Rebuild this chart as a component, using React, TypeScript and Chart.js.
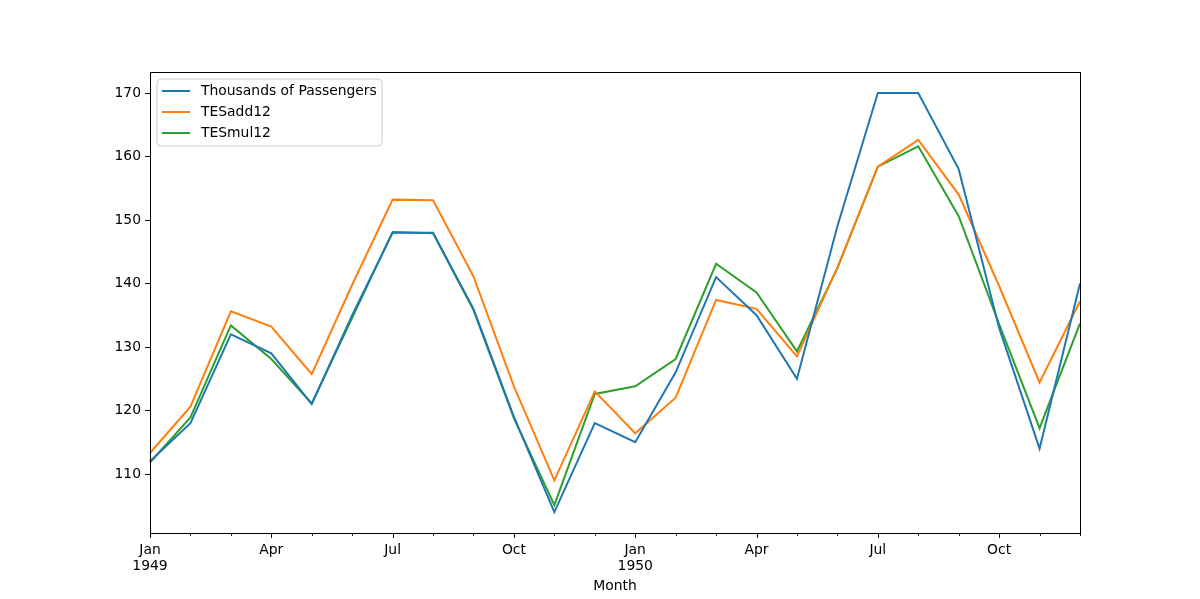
import React, { useEffect, useRef } from 'react';
import { Chart, registerables } from 'chart.js';

Chart.register(...registerables);

const months = [
  '1949-01', '1949-02', '1949-03', '1949-04', '1949-05', '1949-06',
  '1949-07', '1949-08', '1949-09', '1949-10', '1949-11', '1949-12',
  '1950-01', '1950-02', '1950-03', '1950-04', '1950-05', '1950-06',
  '1950-07', '1950-08', '1950-09', '1950-10', '1950-11', '1950-12',
];

const xTickLabels: (string | string[])[] = [
  ['Jan', '1949'], '', '', 'Apr', '', '', 'Jul', '', '', 'Oct', '', '',
  ['Jan', '1950'], '', '', 'Apr', '', '', 'Jul', '', '', 'Oct', '', '',
];

const passengers = [112, 118, 132, 129, 121, 135, 148, 148, 136, 119, 104, 118,
  115, 126, 141, 135, 125, 149, 170, 170, 158, 133, 114, 140];

const tesAdd12 = [113.3, 120.6, 135.6, 133.2, 125.7, 139.8, 153.2, 153.1, 141.1, 123.8, 109.0, 123.0,
  116.4, 122.0, 137.4, 136.0, 128.5, 142.5, 158.4, 162.6, 154.0, 139.6, 124.4, 137.2];

const tesMul12 = [111.8, 118.9, 133.4, 128.1, 121.1, 134.6, 148.1, 147.9, 135.8, 118.8, 105.1, 122.6,
  123.8, 128.1, 143.1, 138.6, 129.3, 142.4, 158.4, 161.6, 150.6, 133.6, 117.2, 133.7];

const seriesNames = ['Thousands of Passengers', 'TESadd12', 'TESmul12'];
const seriesColors = ['#1f77b4', '#ff7f0e', '#2ca02c'];

const yTicks = [110, 120, 130, 140, 150, 160, 170];
const yMin = 100.7;
const yMax = 173.3;

const FONT = 'DejaVu Sans';
const FS = 13.9;

const framePlugin = {
  id: 'mplFrame',
  afterDraw(chart: any) {
    const { ctx, chartArea } = chart;
    const { left, right, top, bottom } = chartArea;
    const xs = chart.scales.x;
    const ys = chart.scales.y;
    ctx.save();
    ctx.strokeStyle = '#000';
    ctx.lineWidth = 1;
    // ticks
    ctx.beginPath();
    for (let i = 0; i < months.length; i++) {
      const x = Math.round(xs.getPixelForValue(i)) + 0.5;
      const len = i % 3 === 0 ? 4.9 : 2.8;
      ctx.moveTo(x, bottom);
      ctx.lineTo(x, bottom + len);
    }
    for (const v of yTicks) {
      const y = Math.round(ys.getPixelForValue(v)) + 0.5;
      ctx.moveTo(left, y);
      ctx.lineTo(left - 4.9, y);
    }
    ctx.stroke();
    // frame
    ctx.strokeRect(Math.round(left) + 0.5, Math.round(top) + 0.5,
      Math.round(right - left), Math.round(bottom - top));

    // legend
    const lx = 157, ly = 79, lw = 225, lh = 67, r = 4;
    ctx.beginPath();
    ctx.moveTo(lx + r, ly);
    ctx.lineTo(lx + lw - r, ly);
    ctx.quadraticCurveTo(lx + lw, ly, lx + lw, ly + r);
    ctx.lineTo(lx + lw, ly + lh - r);
    ctx.quadraticCurveTo(lx + lw, ly + lh, lx + lw - r, ly + lh);
    ctx.lineTo(lx + r, ly + lh);
    ctx.quadraticCurveTo(lx, ly + lh, lx, ly + lh - r);
    ctx.lineTo(lx, ly + r);
    ctx.quadraticCurveTo(lx, ly, lx + r, ly);
    ctx.closePath();
    ctx.fillStyle = 'rgba(255,255,255,0.8)';
    ctx.fill();
    ctx.strokeStyle = '#cccccc';
    ctx.lineWidth = 1;
    ctx.stroke();

    ctx.font = `${FS}px "${FONT}"`;
    ctx.textBaseline = 'middle';
    ctx.textAlign = 'left';
    chart.data.datasets.forEach((ds: any, i: number) => {
      const cy = 91 + i * 21;
      ctx.strokeStyle = ds.borderColor;
      ctx.lineWidth = 2;
      ctx.beginPath();
      ctx.moveTo(162, cy);
      ctx.lineTo(190, cy);
      ctx.stroke();
      ctx.fillStyle = '#000';
      ctx.fillText(ds.label, 201, cy);
    });
    ctx.restore();
  },
};

export default function App() {
  const ref = useRef<HTMLCanvasElement>(null);

  useEffect(() => {
    if (!ref.current) return;
    const seriesData = [passengers, tesAdd12, tesMul12];
    const chart = new Chart(ref.current, {
      type: 'line',
      data: {
        labels: months,
        datasets: seriesData.map((d, i) => ({
          label: seriesNames[i],
          data: d,
          borderColor: seriesColors[i],
          backgroundColor: seriesColors[i],
          borderWidth: 2,
          pointRadius: 0,
          tension: 0,
          fill: false,
        })),
      },
      options: {
        animation: false,
        responsive: false,
        maintainAspectRatio: false,
        layout: { padding: { left: 0, top: 72, right: 120, bottom: 0 } },
        plugins: {
          legend: { display: false },
          tooltip: { enabled: false },
        },
        scales: {
          x: {
            type: 'category',
            offset: false,
            grid: { display: false, drawTicks: false },
            border: { display: false },
            ticks: {
              autoSkip: false,
              maxRotation: 0,
              minRotation: 0,
              padding: 9,
              color: '#000',
              font: { family: FONT, size: FS, lineHeight: 1.15 },
              callback: (_v: any, i: number) => xTickLabels[i],
            },
            title: {
              display: true,
              text: 'Month',
              color: '#000',
              font: { family: FONT, size: FS, lineHeight: 1.2 },
              padding: { top: 0, bottom: 4 },
            },
            afterFit: (s: any) => { s.height = 66; },
          },
          y: {
            type: 'linear',
            min: yMin,
            max: yMax,
            grid: { display: false, drawTicks: false },
            border: { display: false },
            ticks: {
              padding: 9,
              color: '#000',
              font: { family: FONT, size: FS },
            },
            afterBuildTicks: (s: any) => { s.ticks = yTicks.map((v) => ({ value: v })); },
            afterFit: (s: any) => { s.width = 150; },
          },
        },
      },
      plugins: [framePlugin],
    });
    return () => chart.destroy();
  }, []);

  return (
    <div style={{ position: 'fixed', left: 0, top: 0, width: 1200, height: 599, background: '#fff' }}>
      <canvas ref={ref} width={1200} height={599} style={{ width: 1200, height: 599, display: 'block' }} />
    </div>
  );
}
